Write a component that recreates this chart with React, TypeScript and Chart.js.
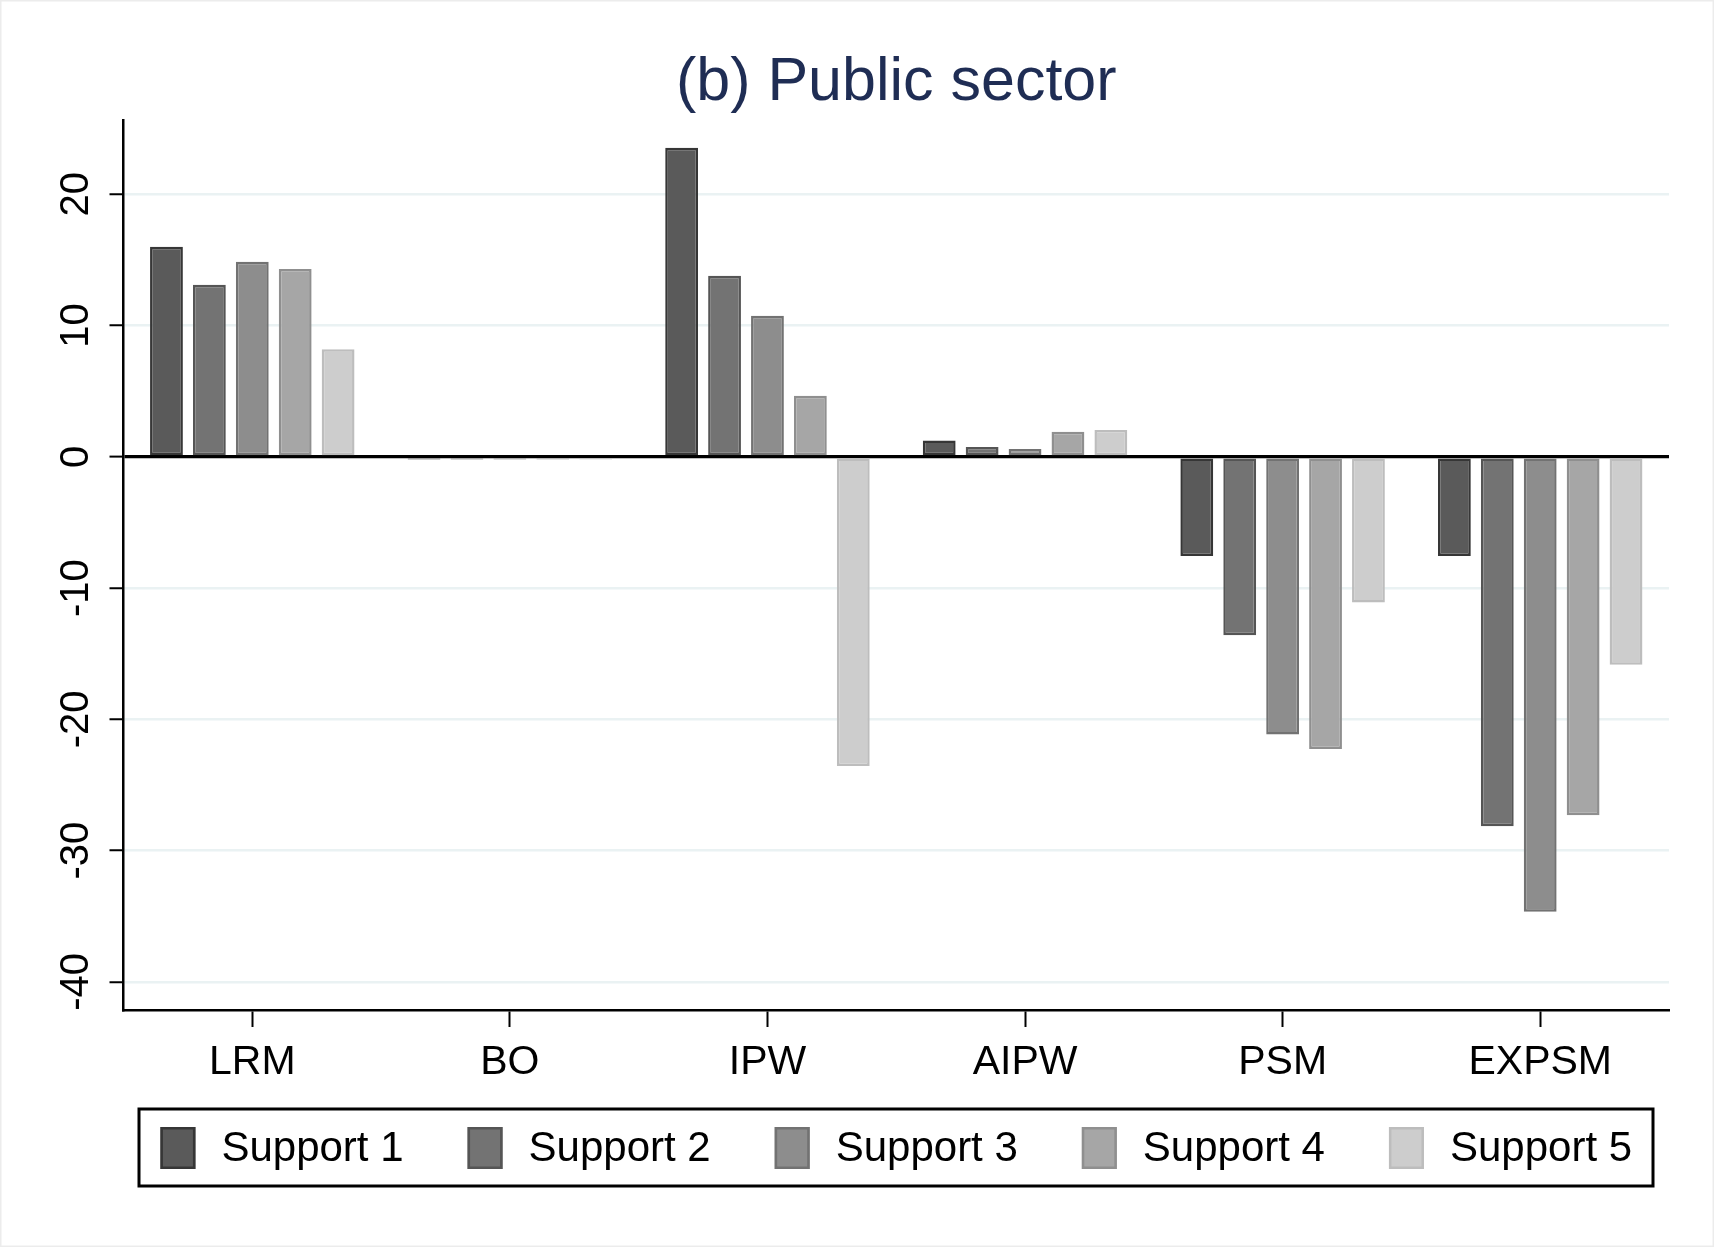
import React, { useEffect, useRef } from "react";
import { Chart, registerables } from "chart.js";

Chart.register(...registerables);

// ---- Data ----
const categories = ["LRM", "BO", "IPW", "AIPW", "PSM", "EXPSM"];
const support1 = [16.0, -0.2, 23.55, 1.25, -7.55, -7.55];
const support2 = [13.1, -0.2, 13.8, 0.75, -13.6, -28.15];
const support3 = [14.85, -0.2, 10.75, 0.6, -21.15, -34.65];
const support4 = [14.3, -0.2, 4.65, 1.9, -22.25, -27.3];
const support5 = [8.2, -0.2, -23.55, 2.05, -11.1, -15.85];
const seriesLabels = ["Support 1", "Support 2", "Support 3", "Support 4", "Support 5"];
const yTickValues = [-40, -30, -20, -10, 0, 10, 20];
const yMin = -42.14;
const yMax = 25.64;
const chartTitle = "(b) Public sector";

// ---- Styles ----
const FONT = "'Liberation Sans', Arial, Helvetica, sans-serif";
const fills = ["#5a5a5a", "#737373", "#8d8d8d", "#a6a6a6", "#cdcdcd"];
const strokes = ["#363636", "#555555", "#727272", "#8f8f8f", "#bdbdbd"];
const W = 1714;
const H = 1247;

const yLabelPlugin = {
  id: "yLabels",
  afterDraw(chart: any) {
    const ctx = chart.ctx;
    const y = chart.scales.y;
    ctx.save();
    ctx.fillStyle = "#000";
    ctx.font = `40px ${FONT}`;
    ctx.textAlign = "center";
    ctx.textBaseline = "middle";
    yTickValues.forEach((v) => {
      const py = y.getPixelForValue(v);
      ctx.save();
      ctx.translate(77, py);
      ctx.rotate(-Math.PI / 2);
      ctx.fillText(String(v), 0, 0);
      ctx.restore();
    });
    ctx.restore();
  },
};

const legendPlugin = {
  id: "boxLegend",
  afterDraw(chart: any) {
    const ctx = chart.ctx;
    const area = chart.chartArea;
    const ds = chart.data.datasets;
    ctx.save();
    ctx.font = `42px ${FONT}`;
    const boxW = 35;
    const boxH = 42;
    const textGap = 26;
    const itemGap = 64;
    const widths = ds.map((d: any) => boxW + textGap + ctx.measureText(d.label).width);
    const total = widths.reduce((a: number, b: number) => a + b, 0) + itemGap * (ds.length - 1);
    let x = (area.left + area.right) / 2 - total / 2;
    const cy = area.bottom + 138;
    ctx.strokeStyle = "#000";
    ctx.lineWidth = 3;
    ctx.strokeRect(area.left + 15.5, cy - 39, area.right - area.left - 31.5, 77);
    ds.forEach((d: any, i: number) => {
      ctx.fillStyle = d.backgroundColor;
      ctx.fillRect(x, cy - boxH / 2, boxW, boxH);
      ctx.strokeStyle = d.borderColor;
      ctx.lineWidth = 2.5;
      ctx.strokeRect(x + 1.25, cy - boxH / 2 + 1.25, boxW - 2.5, boxH - 2.5);
      ctx.fillStyle = "#000";
      ctx.textAlign = "left";
      ctx.textBaseline = "middle";
      ctx.fillText(d.label, x + boxW + textGap, cy + 1);
      x += widths[i] + itemGap;
    });
    ctx.restore();
  },
};

const framePlugin = {
  id: "outerFrame",
  beforeDraw(chart: any) {
    const ctx = chart.ctx;
    ctx.save();
    ctx.fillStyle = "#ffffff";
    ctx.fillRect(0, 0, chart.width, chart.height);
    ctx.strokeStyle = "#ececec";
    ctx.lineWidth = 1.5;
    ctx.strokeRect(0.75, 0.75, chart.width - 1.5, chart.height - 1.5);
    ctx.restore();
  },
};

export default function App() {
  const canvasRef = useRef<HTMLCanvasElement | null>(null);

  useEffect(() => {
    document.body.style.margin = "0";
    const canvas = canvasRef.current;
    if (!canvas) return;
    const series = [support1, support2, support3, support4, support5];
    const chart = new Chart(canvas, {
      type: "bar",
      data: {
        labels: categories,
        datasets: series.map((s, i) => ({
          label: seriesLabels[i],
          data: s,
          backgroundColor: fills[i],
          borderColor: strokes[i],
          borderWidth: 2.5,
          borderSkipped: false,
          categoryPercentage: 0.833,
          barPercentage: 0.765,
        })),
      },
      options: {
        responsive: false,
        animation: false,
        layout: { padding: { left: 0, right: 45, top: 0, bottom: 157 } },
        plugins: {
          legend: { display: false },
          tooltip: { enabled: false },
          title: {
            display: true,
            fullSize: false,
            text: chartTitle,
            color: "#1f2d54",
            font: { family: FONT, size: 61, weight: "normal" },
            padding: { top: 47, bottom: 0 },
          },
        },
        scales: {
          x: {
            type: "category",
            offset: true,
            grid: {
              display: true,
              drawOnChartArea: false,
              drawTicks: true,
              tickLength: 17,
              tickColor: "#000",
              tickWidth: 2,
              offset: false,
            },
            border: { display: true, color: "#000", width: 2.5 },
            ticks: {
              color: "#000",
              font: { family: FONT, size: 41 },
              padding: 11,
              maxRotation: 0,
              minRotation: 0,
            },
            afterFit: (scale: any) => {
              scale.height = 80;
            },
          },
          y: {
            type: "linear",
            min: yMin,
            max: yMax,
            afterBuildTicks: (scale: any) => {
              scale.ticks = yTickValues.map((v) => ({ value: v }));
            },
            grid: {
              color: (c: any) => (c.tick && c.tick.value === 0 ? "#000" : "#eaf2f3"),
              lineWidth: (c: any) => (c.tick && c.tick.value === 0 ? 3.2 : 2.5),
              drawTicks: true,
              tickLength: 14,
              tickColor: "#000",
              tickWidth: 2,
            },
            border: { display: true, color: "#000", width: 2.5 },
            ticks: { display: false },
            afterFit: (scale: any) => {
              scale.width = 123.5;
            },
          },
        },
      },
      plugins: [framePlugin, yLabelPlugin, legendPlugin],
    });
    return () => chart.destroy();
  }, []);

  return (
    <div style={{ width: W, height: H }}>
      <canvas ref={canvasRef} width={W} height={H} style={{ display: "block", width: W, height: H }} />
    </div>
  );
}
